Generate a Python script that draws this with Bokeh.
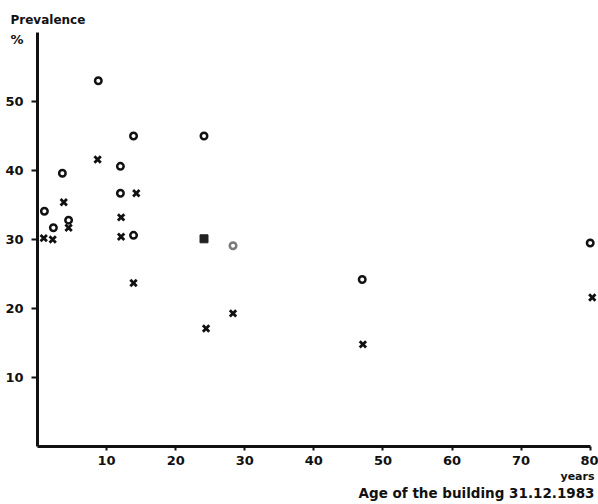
from bokeh.plotting import figure
from bokeh.models import FixedTicker, Range1d, Title
from bokeh.embed import file_html
from bokeh.resources import INLINE

# Data
circle_x = [1.0, 2.3, 3.6, 4.5, 8.8, 12.0, 12.0, 13.9, 13.9, 24.1, 47.0, 80.0]
circle_y = [34.1, 31.7, 39.6, 32.8, 53.0, 40.6, 36.7, 30.6, 45.0, 45.0, 24.2, 29.5]
cross_x = [0.9, 2.2, 3.8, 4.5, 8.7, 12.1, 12.1, 14.3, 13.9, 24.4, 28.3, 47.1, 80.3]
cross_y = [30.2, 30.0, 35.4, 31.7, 41.6, 33.2, 30.4, 36.7, 23.7, 17.1, 19.3, 14.8, 21.6]
square_x = [24.1]
square_y = [30.1]
grey_x = [28.3]
grey_y = [29.1]
x_ticks = [10, 20, 30, 40, 50, 60, 70, 80]
y_ticks = [10, 20, 30, 40, 50]
y_unit_pos = 59      # where the "%" unit sits on the y axis
y_unit_text = "%"

FONT = "DejaVu Sans"
W, H = 598, 504
LEFT, TOP, BOTTOM = 37, 32, 58

p = figure(width=W, height=H, output_backend="svg", toolbar_location=None,
           x_range=Range1d(0, 81.2), y_range=Range1d(0, 60),
           min_border_left=LEFT, min_border_right=0, min_border_top=TOP,
           min_border_bottom=BOTTOM)
p.title.visible = False
p.outline_line_color = None
p.xgrid.visible = False
p.ygrid.visible = False
p.background_fill_color = "white"

for ax in (p.xaxis[0], p.yaxis[0]):
    ax.axis_line_width = 3
    ax.axis_line_color = "#111111"
    ax.major_tick_line_width = 2
    ax.major_tick_line_color = "#111111"
    ax.minor_tick_line_width = 2
    ax.minor_tick_line_color = "#111111"
    ax.major_tick_in = 0
    ax.minor_tick_in = 0
    ax.major_label_text_font = FONT
    ax.major_label_text_font_style = "bold"
    ax.major_label_text_font_size = "13px"
    ax.major_label_text_color = "#111111"

p.xaxis[0].ticker = FixedTicker(ticks=x_ticks, minor_ticks=[])
p.xaxis[0].bounds = (0, 80)
p.xaxis[0].major_tick_out = 4
p.xaxis[0].major_label_standoff = 5

# y axis: labels on the major ticks (numbers and the "%" unit), tick marks drawn
# by minor ticks at the numbered positions only
p.yaxis[0].ticker = FixedTicker(ticks=y_ticks + [y_unit_pos], minor_ticks=y_ticks)
p.yaxis[0].major_label_overrides = {y_unit_pos: y_unit_text}
p.yaxis[0].major_tick_out = 0
p.yaxis[0].minor_tick_out = 6
p.yaxis[0].major_label_standoff = 8

p.scatter(circle_x, circle_y, marker="circle", size=6.5, line_width=2.5,
          line_color="#111111", fill_color="white")
p.scatter(cross_x, cross_y, marker="x", size=9, line_width=2.8, line_color="#111111")
p.scatter(square_x, square_y, marker="square", size=8, line_color="#222222",
          fill_color="#222222")
p.scatter(grey_x, grey_y, marker="circle", size=6.5, line_width=2.5,
          line_color="#7a7a7a", fill_color="white")

def title(text, where, align, offset, size, standoff):
    p.add_layout(Title(text=text, align=align, offset=offset, standoff=standoff,
                       text_font=FONT, text_font_style="bold",
                       text_font_size=size, text_color="#111111"), where)

title("Prevalence", "above", "left", -27, "12px", 11)
title("years", "below", "right", 4, "11px", 0)
title("Age of the building 31.12.1983", "below", "right", 4, "13.5px", 1)

open("out.html", "w").write(file_html(p, INLINE))
